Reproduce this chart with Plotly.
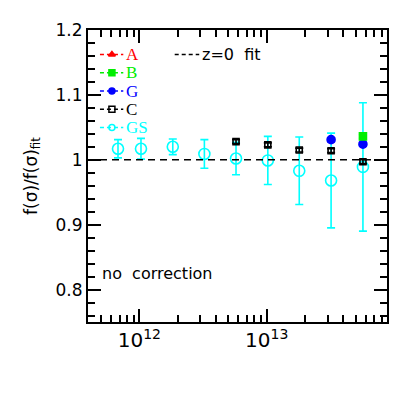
import plotly.graph_objects as go

# halo mass bins and f(sigma) ratios
gs_mass = [6.8e11, 1.03e12, 1.83e12, 3.24e12, 5.74e12, 1.02e13, 1.80e13, 3.20e13, 5.69e13]
gs_ratio = [1.017, 1.017, 1.020, 1.009, 1.002, 0.999, 0.983, 0.968, 0.989]
gs_err = [0.014, 0.016, 0.012, 0.022, 0.025, 0.037, 0.052, 0.073, 0.099]

c_mass = [5.74e12, 1.02e13, 1.80e13, 3.20e13, 5.69e13]
c_ratio = [1.028, 1.023, 1.015, 1.014, 0.997]
c_err = [0.003, 0.003, 0.003, 0.003, 0.003]

g_mass = [3.20e13, 5.69e13]
g_ratio = [1.031, 1.024]
g_err = [0.003, 0.003]

b_mass = [5.69e13]
b_ratio = [1.036]
b_err = [0.003]

a_mass = []
a_ratio = []
a_err = []

series = [
    ('A', a_mass, a_ratio, a_err, 'red', 'triangle-up', 7),
    ('B', b_mass, b_ratio, b_err, '#00ee00', 'square', 7),
    ('G', g_mass, g_ratio, g_err, 'blue', 'circle', 8),
    ('C', c_mass, c_ratio, c_err, 'black', 'square-open', 6),
    ('GS', gs_mass, gs_ratio, gs_err, 'cyan', 'circle-open', 11),
]
draw_order = ['GS', 'C', 'G', 'B', 'A']

FONT = 'DejaVu Sans'
SERIF = 'Liberation Serif'
X_RANGE = [11.597, 13.944]
Y_RANGE = [0.75, 1.2]

fig = go.Figure()
for name in draw_order:
    nm, xs, ys, es, col, sym, size = next(s for s in series if s[0] == name)
    fig.add_trace(go.Scatter(
        x=xs, y=ys, mode='markers', name=nm,
        marker=dict(symbol=sym, size=size, color=col, line=dict(color=col, width=1.6)),
        error_y=dict(type='data', array=es, color=col, thickness=1.6, width=4),
        showlegend=False))

# z=0 fit reference line
fig.add_hline(y=1.0, line=dict(color='black', width=1.6, dash='7px,5px'))

# hand-drawn legend like the original
legend_top = 0.916
step = 0.0625
for i, (nm, xs, ys, es, col, sym, size) in enumerate(series):
    yy = legend_top - i * step
    fig.add_shape(type='line', xref='paper', yref='paper', x0=0.04, x1=0.118, y0=yy, y1=yy,
                  line=dict(color=col, width=1.5, dash='4px,3px'))
    fig.add_trace(go.Scatter(
        x=[0.08], y=[yy], xaxis='x2', yaxis='y2', mode='markers',
        marker=dict(symbol=sym, size=6, color=col, line=dict(color=col, width=1.5)),
        showlegend=False, hoverinfo='skip'))
    fig.add_annotation(xref='paper', yref='paper', x=0.12, y=yy, xanchor='left', yanchor='middle',
                       text=nm, showarrow=False, font=dict(family=SERIF, size=17, color=col))

fig.add_shape(type='line', xref='paper', yref='paper', x0=0.29, x1=0.372, y0=legend_top, y1=legend_top,
              line=dict(color='black', width=1.5, dash='4px,3px'))
fig.add_annotation(xref='paper', yref='paper', x=0.375, y=legend_top, xanchor='left', yanchor='middle',
                   text='z=0  fit', showarrow=False, font=dict(family=FONT, size=16, color='black'))
fig.add_annotation(xref='paper', yref='paper', x=0.04, y=0.167, xanchor='left', yanchor='middle',
                   text='no  correction', showarrow=False, font=dict(family=FONT, size=16, color='black'))

tick_style = dict(showgrid=False, zeroline=False, ticks='inside', ticklen=13, tickwidth=1.6,
                  tickcolor='black', showline=True, linewidth=2, linecolor='black')
minor_style = dict(ticks='inside', ticklen=7, tickwidth=1.6, tickcolor='black', showgrid=False)

fig.update_layout(
    width=401, height=401,
    margin=dict(l=80, r=22, t=15, b=87),
    plot_bgcolor='white', paper_bgcolor='white',
    font=dict(family=FONT, size=17, color='black'),
    xaxis=dict(type='log', range=X_RANGE, dtick=1, exponentformat='power',
               minor=dict(dtick='D1', **minor_style),
               tickfont=dict(family=FONT, size=16), **tick_style),
    yaxis=dict(range=Y_RANGE, dtick=0.1, minor=dict(dtick=0.02, **minor_style),
               title=dict(text='f(σ)/f(σ)<sub>fit</sub>', standoff=14, font=dict(family=FONT, size=17)),
               tickfont=dict(family=FONT, size=17), **tick_style),
    xaxis2=dict(range=[0, 1], overlaying='x', visible=False),
    yaxis2=dict(range=[0, 1], overlaying='y', visible=False),
    # mirrored axes on top and right carrying the same ticks
    xaxis3=dict(type='log', range=X_RANGE, dtick=1, overlaying='x', side='top', anchor='y3',
                showticklabels=False, minor=dict(dtick='D1', **minor_style), **tick_style),
    yaxis3=dict(range=Y_RANGE, dtick=0.1, overlaying='y', side='right', anchor='x3',
                showticklabels=False, minor=dict(dtick=0.02, **minor_style), **tick_style),
)
# transparent copy of the GS points so the mirrored axes get drawn
fig.add_trace(go.Scatter(x=gs_mass, y=gs_ratio, xaxis='x3', yaxis='y3', mode='markers',
                         marker=dict(opacity=0), showlegend=False, hoverinfo='skip'))

fig.write_html("out.html")
